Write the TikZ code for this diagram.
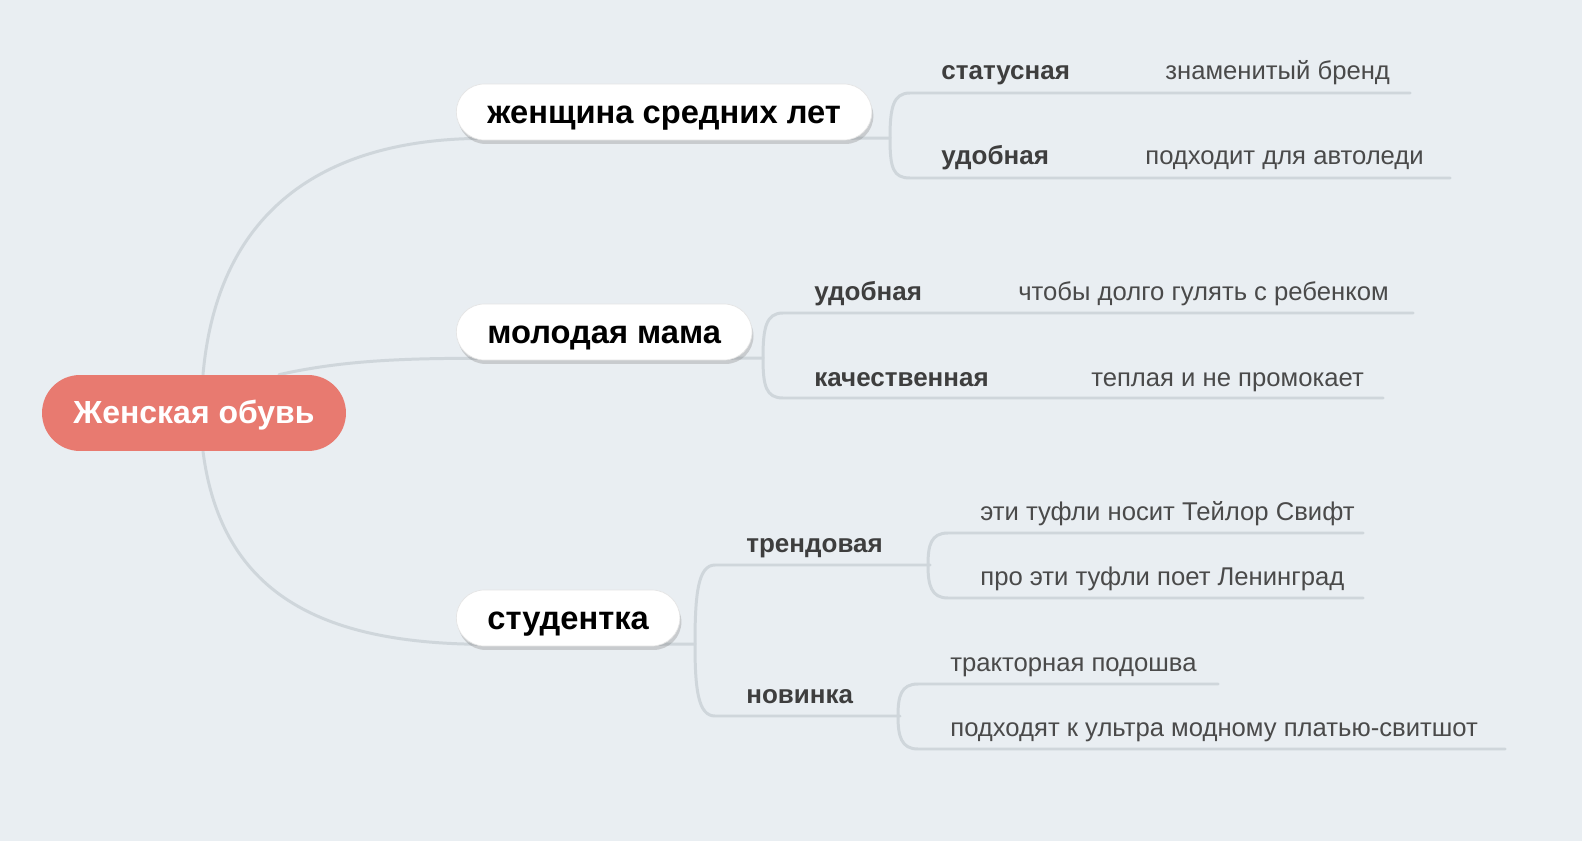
\documentclass[tikz,border=0pt]{standalone}
\usepackage{fontspec}
\setmainfont{Liberation Sans}
\usepackage{tikz}
\usetikzlibrary{positioning, shadows}

\definecolor{bgcol}{RGB}{233,238,242}
\definecolor{edgecol}{RGB}{207,214,219}
\definecolor{rootcol}{RGB}{232,122,112}
\definecolor{labelcol}{RGB}{62,62,62}
\definecolor{leafcol}{RGB}{74,74,74}

\pgfdeclarelayer{bg}
\pgfdeclarelayer{edges}
\pgfsetlayers{bg,edges,main}

\begin{document}
\begin{tikzpicture}[x=0.02cm, y=-0.02cm,
            root/.style={fill=rootcol, text=white, rounded corners=0.76cm, minimum width=6.08cm, minimum height=1.52cm, text height=12.5pt, text depth=0pt, font=\fontsize{18.2}{22}\selectfont\bfseries},
            topic/.style={draw=black!10, fill=white, rounded corners=0.56cm, minimum height=1.12cm, inner xsep=0.62cm, text height=13pt, text depth=0pt, anchor=west, font=\fontsize{18.6}{22}\selectfont\bfseries, drop shadow={shadow xshift=0.03cm, shadow yshift=-0.08cm, opacity=0.25, fill=black!60}},
            branch label/.style={anchor=base west, inner sep=0pt, text=labelcol, font=\fontsize{14.8}{17}\selectfont\bfseries},
            leaf/.style={anchor=base west, inner sep=0pt, text=leafcol, font=\fontsize{14.6}{17}\selectfont},
            edge/.style={draw=edgecol, line width=1.7pt, line cap=round}]

            % Page background
            \begin{pgfonlayer}{bg}
                \fill[bgcol] (0,0) rectangle (1582,841);
            \end{pgfonlayer}
            \useasboundingbox (0,0) rectangle (1582,841);

            % Centre and main topics
            \node[root] (root) at (194,413) {Женская обувь};
            \node[topic] (middle) at (456,112) {женщина средних лет};
            \node[topic] (mom) at (456,332) {молодая мама};
            \node[topic] (student) at (456,618) {студентка};

            % Branch labels and leaves
            \node[branch label] (status) at (941,80) {статусная};
            \node[leaf] (brand) at (1165,80) {знаменитый бренд};
            \node[branch label] (comfy-a) at (941,165) {удобная};
            \node[leaf] (autolady) at (1145,165) {подходит для автоледи};

            \node[branch label] (comfy-b) at (814,300) {удобная};
            \node[leaf] (walk) at (1018,300) {чтобы долго гулять с ребенком};
            \node[branch label] (quality) at (814,386) {качественная};
            \node[leaf] (warm) at (1091,386) {теплая и не промокает};

            \node[branch label] (trend) at (746,552) {трендовая};
            \node[leaf] (taylor) at (980,520) {эти туфли носит Тейлор Свифт};
            \node[leaf] (lenin) at (980,585) {про эти туфли поет Ленинград};
            \node[branch label] (novelty) at (746,703) {новинка};
            \node[leaf] (tractor) at (950,671) {тракторная подошва};
            \node[leaf] (dress) at (950,736) {подходят к ультра модному платью-свитшот};

            % Junction points of the brackets
            \coordinate (j-middle) at (890,138);
            \coordinate (j-mom) at (763,358);
            \coordinate (j-student) at (695,644);
            \coordinate (j-trend) at (928,565);
            \coordinate (j-novelty) at (898,716);

            \begin{pgfonlayer}{edges}
                % Centre to topics
                \draw[edge] ([xshift=0.18cm]root.north) .. controls (218,205) and (330,138) .. ([xshift=0.6cm, yshift=0.04cm]middle.south west);
                \draw[edge] ([xshift=1.7cm]root.north) .. controls (340,361) and (400,358) .. ([xshift=0.6cm, yshift=0.04cm]mom.south west);
                \draw[edge] ([xshift=0.18cm]root.south) .. controls (222,600) and (330,644) .. ([xshift=0.6cm, yshift=0.04cm]student.south west);

                % Topic stubs
                \draw[edge] ([xshift=-0.6cm, yshift=0.04cm]middle.south east) -- (j-middle);
                \draw[edge] ([xshift=-0.6cm, yshift=0.04cm]mom.south east) -- (j-mom);
                \draw[edge] ([xshift=-0.6cm, yshift=0.04cm]student.south east) -- (j-student);

                % Brackets with underlines
                \draw[edge] (1410,93) -- (910,93) .. controls +(-17,0) and +(0,-30) .. (j-middle) .. controls +(0,30) and +(-17,0) .. (910,178) -- (1450,178);
                \draw[edge] (1413,313) -- (783,313) .. controls +(-17,0) and +(0,-30) .. (j-mom) .. controls +(0,28) and +(-17,0) .. (783,398) -- (1383,398);
                \draw[edge] (930,565) -- (715,565) .. controls +(-17,0) and +(0,-50) .. (j-student) .. controls +(0,45) and +(-17,0) .. (715,716) -- (900,716);
                \draw[edge] (1363,533) -- (948,533) .. controls +(-17,0) and +(0,-20) .. (j-trend) .. controls +(0,20) and +(-17,0) .. (948,598) -- (1363,598);
                \draw[edge] (1218,684) -- (918,684) .. controls +(-17,0) and +(0,-20) .. (j-novelty) .. controls +(0,20) and +(-17,0) .. (918,749) -- (1505,749);
            \end{pgfonlayer}
        \end{tikzpicture}
\end{document}
